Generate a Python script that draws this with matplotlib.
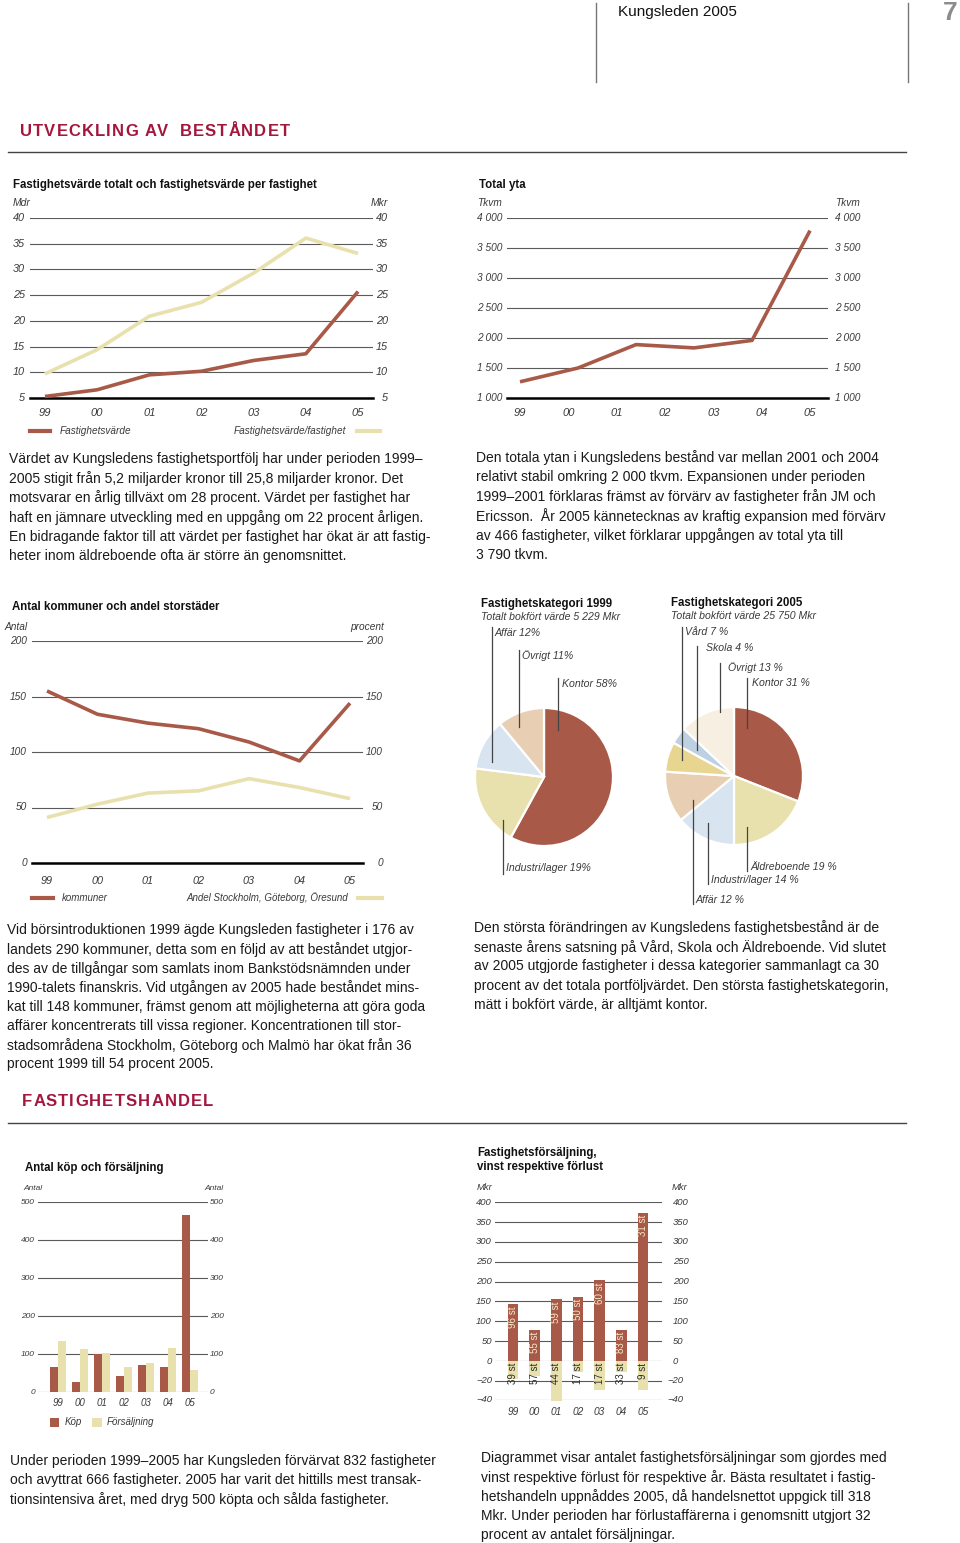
import matplotlib
matplotlib.use('Agg')
import matplotlib.pyplot as plt
import numpy as np
from matplotlib.lines import Line2D
from matplotlib.patches import Rectangle

plt.rcParams['font.family'] = ['Liberation Sans', 'DejaVu Sans']
plt.rcParams['axes.unicode_minus'] = True

W, H = 960, 1543
BROWN = '#a85948'
YELLOW = '#e9e1ad'
CRIMSON = '#a3173f'
GRID = '#5a5a5a'
TICK = '#3a3a3a'
BODY = '#1a1a1a'

# ---------------- data ----------------
years = ['99', '00', '01', '02', '03', '04', '05']

fastighetsvarde = [5.3, 6.6, 9.5, 10.2, 12.3, 13.6, 25.7]          # Mdr
varde_per_fastighet = [9.7, 14.4, 20.9, 23.6, 29.3, 36.1, 33.1]     # Mkr
fv_ticks = [5, 10, 15, 20, 25, 30, 35, 40]

total_yta = [1270, 1500, 1890, 1835, 1960, 3790]                    # Tkvm
yta_ticks = [1000, 1500, 2000, 2500, 3000, 3500, 4000]
yta_ticklabels = ['1 000', '1 500', '2 000', '2 500', '3 000', '3 500', '4 000']

kommuner = [155, 134, 126, 121, 109, 92, 144]
andel_storstad = [41, 53, 63, 65, 76, 68, 58]
kom_ticks = [0, 50, 100, 150, 200]

kat1999_labels = ['Kontor', 'Industri/lager', 'Affär', 'Övrigt']
kat1999_values = [58, 19, 12, 11]
kat1999_colors = [BROWN, YELLOW, '#d8e4ef', '#e8cfb3']

kat2005_labels = ['Kontor', 'Äldreboende', 'Industri/lager', 'Affär', 'Vård', 'Skola', 'Övrigt']
kat2005_values = [31, 19, 14, 12, 7, 4, 13]
kat2005_colors = [BROWN, YELLOW, '#d8e4ef', '#e8cfb3', '#e8d690', '#bed1e3', '#f7efe2']

kop = [67, 27, 101, 43, 71, 65, 466]
forsaljning = [135, 112, 103, 67, 77, 116, 57]
kop_ticks = [0, 100, 200, 300, 400, 500]

vinst = [143, 78, 156, 161, 203, 78, 374]
forlust = [-18, -15, -41, -11, -29.5, -11, -29.5]
antal_vinst = [96, 55, 59, 50, 60, 83, 31]
antal_forlust = [39, 57, 44, 17, 17, 33, 9]
vinst_ticks = [0, 50, 100, 150, 200, 250, 300, 350, 400]
forlust_ticks = [-40, -20]

# ---------------- helpers ----------------
fig = plt.figure(figsize=(W / 100, H / 100), dpi=100)
RENDERER = fig.canvas.get_renderer()


def add_ax(x0, y0, x1, y1):
    return fig.add_axes([x0 / W, 1 - y1 / H, (x1 - x0) / W, (y1 - y0) / H])


def ftext(x, y, s, **kw):
    kw.setdefault('va', 'center')
    kw.setdefault('ha', 'left')
    return fig.text(x / W, 1 - y / H, s, **kw)


def text_width(s, **kw):
    t = fig.text(0, 0, s + 'X', **kw)
    t2 = fig.text(0, 0, 'X', **kw)
    w = t.get_window_extent(renderer=RENDERER).width - t2.get_window_extent(renderer=RENDERER).width
    t.remove()
    t2.remove()
    return w


def spaced_text(x, y, s, spacing, **kw):
    for i, ch in enumerate(s):
        if ch == ' ':
            continue
        off = text_width(s[:i], **kw) if i > 0 else 0
        ftext(x + off + i * spacing, y, ch, **kw)


def fline(xs, ys, **kw):
    fig.add_artist(Line2D([x / W for x in xs], [1 - y / H for y in ys],
                          transform=fig.transFigure, **kw))


def frect(x0, y0, w, h, **kw):
    fig.add_artist(Rectangle((x0 / W, 1 - (y0 + h) / H), w / W, h / H,
                             transform=fig.transFigure, **kw))


def base_axes(ax, xlim, ylim, yticks):
    ax.set_xlim(*xlim)
    ax.set_ylim(*ylim)
    for s in ax.spines.values():
        s.set_visible(False)
    ax.set_facecolor('none')
    ax.set_yticks(yticks)
    ax.tick_params(axis='y', length=0, labelleft=False)
    ax.yaxis.grid(True, color=GRID, lw=0.8)
    ax.set_axisbelow(True)


def ylabels(ax, ax_x0, ax_x1, ticks, labels, px, ha, fs):
    tr = ax.get_yaxis_transform()
    for t, lab in zip(ticks, labels):
        ax.text((px - ax_x0) / (ax_x1 - ax_x0), t, lab, transform=tr, ha=ha, va='center',
                fontsize=fs, style='italic', color=TICK, clip_on=False)


def xlabels(ax, labels, fs, pad):
    ax.set_xticks(range(len(labels)))
    ax.set_xticklabels(labels, fontstyle='italic', fontsize=fs, color=TICK)
    ax.tick_params(axis='x', length=0, pad=pad)


BODY_FS = 10
TITLE_FS = 8.3


def paragraph(x, y0, dy, lines, fs=BODY_FS):
    for i, ln in enumerate(lines):
        ftext(x, y0 + i * dy, ln, fontsize=fs, color=BODY)


def title(x, y, s):
    ftext(x, y, s, fontsize=TITLE_FS, fontweight='bold', color='#111111')


# ---------------- header ----------------
fline([596, 596], [3, 82], color='#777777', lw=1)
fline([908, 908], [3, 82], color='#777777', lw=1)
ftext(618, 12, 'Kungsleden 2005', fontsize=11, color='#111111')
ftext(943, 13, '7', fontsize=19, fontweight='bold', color='#8c8c8c')

spaced_text(20, 131, 'UTVECKLING AV  BESTÅNDET', 1.1, fontsize=12, fontweight='bold', color=CRIMSON)
fline([8, 906], [152, 152], color='#444444', lw=1)

# ---------------- chart 1 ----------------
title(13, 185, 'Fastighetsvärde totalt och fastighetsvärde per fastighet')
X0, X1 = 30, 373
ax1 = add_ax(X0, 218, X1, 398)
base_axes(ax1, (-0.2875, 6.287), (5, 40), fv_ticks)
x7 = np.arange(len(years))
ax1.plot(x7, varde_per_fastighet, color=YELLOW, lw=2.6, solid_capstyle='butt', clip_on=False, zorder=3)
ax1.plot(x7, fastighetsvarde, color=BROWN, lw=2.6, solid_capstyle='butt', clip_on=False, zorder=4)
ax1.axhline(5, color='black', lw=1.8, clip_on=False, zorder=2)
ylabels(ax1, X0, X1, fv_ticks, [str(t) for t in fv_ticks], 25, 'right', 7.8)
ylabels(ax1, X0, X1, fv_ticks, [str(t) for t in fv_ticks], 388, 'right', 7.8)
xlabels(ax1, years, 8, 7.5)
ftext(13, 203, 'Mdr', fontsize=7.5, style='italic', color=TICK)
ftext(388, 203, 'Mkr', fontsize=7.5, style='italic', color=TICK, ha='right')
fline([30, 50], [431, 431], color=BROWN, lw=3)
ftext(60, 431, 'Fastighetsvärde', fontsize=7.2, style='italic', color=TICK)
ftext(346, 431, 'Fastighetsvärde/fastighet', fontsize=7.2, style='italic', color=TICK, ha='right')
fline([357, 380], [431, 431], color=YELLOW, lw=3)

# ---------------- chart 2 ----------------
title(479, 185, 'Total yta')
X0, X1 = 507, 828
ax2 = add_ax(X0, 218, X1, 398)
base_axes(ax2, (-0.269, 6.372), (1000, 4000), yta_ticks)
ax2.plot(np.linspace(0, len(years) - 1, len(total_yta)), total_yta, color=BROWN, lw=2.6,
         solid_capstyle='butt', clip_on=False, zorder=4)
ax2.axhline(1000, color='black', lw=1.8, clip_on=False, zorder=2)
ylabels(ax2, X0, X1, yta_ticks, yta_ticklabels, 502, 'right', 7.3)
ylabels(ax2, X0, X1, yta_ticks, yta_ticklabels, 860, 'right', 7.3)
xlabels(ax2, years, 8, 7.5)
ftext(502, 203, 'Tkvm', fontsize=7.3, style='italic', color=TICK, ha='right')
ftext(860, 203, 'Tkvm', fontsize=7.3, style='italic', color=TICK, ha='right')

paragraph(9, 459, 19.4, [
    'Värdet av Kungsledens fastighetsportfölj har under perioden 1999–',
    '2005 stigit från 5,2 miljarder kronor till 25,8 miljarder kronor. Det',
    'motsvarar en årlig tillväxt om 28 procent. Värdet per fastighet har',
    'haft en jämnare utveckling med en uppgång om 22 procent årligen.',
    'En bidragande faktor till att värdet per fastighet har ökat är att fastig-',
    'heter inom äldreboende ofta är större än genomsnittet.',
])
paragraph(476, 458, 19.4, [
    'Den totala ytan i Kungsledens bestånd var mellan 2001 och 2004',
    'relativt stabil omkring 2 000 tkvm. Expansionen under perioden',
    '1999–2001 förklaras främst av förvärv av fastigheter från JM och',
    'Ericsson.  År 2005 kännetecknas av kraftig expansion med förvärv',
    'av 466 fastigheter, vilket förklarar uppgången av total yta till',
    '3 790 tkvm.',
])

# ---------------- chart 3 ----------------
title(12, 607, 'Antal kommuner och andel storstäder')
X0, X1 = 32, 363
ax3 = add_ax(X0, 641, X1, 863)
base_axes(ax3, (-0.297, 6.257), (0, 200), kom_ticks)
ax3.plot(x7, andel_storstad, color=YELLOW, lw=2.6, solid_capstyle='butt', clip_on=False, zorder=3)
ax3.plot(x7, kommuner, color=BROWN, lw=2.6, solid_capstyle='butt', clip_on=False, zorder=4)
ax3.axhline(0, color='black', lw=1.8, clip_on=False, zorder=2)
ylabels(ax3, X0, X1, kom_ticks, [str(t) for t in kom_ticks], 27, 'right', 7.3)
ylabels(ax3, X0, X1, kom_ticks, [str(t) for t in kom_ticks], 383, 'right', 7.3)
xlabels(ax3, years, 7.8, 9)
ftext(4, 627, 'Antal', fontsize=7.3, style='italic', color=TICK)
ftext(384, 627, 'procent', fontsize=7.3, style='italic', color=TICK, ha='right')
fline([32, 53], [898, 898], color=BROWN, lw=3)
ftext(62, 898, 'kommuner', fontsize=7, style='italic', color=TICK)
ftext(348, 898, 'Andel Stockholm, Göteborg, Öresund', fontsize=7, style='italic', color=TICK, ha='right')
fline([358, 382], [898, 898], color=YELLOW, lw=3)

# ---------------- pies ----------------
def pie_axes(cx, cy, r):
    R = r * 1.25
    return add_ax(cx - R, cy - R, cx + R, cy + R)


LEAD = '#444444'
axp1 = pie_axes(544, 777, 69)
axp1.pie(kat1999_values, colors=kat1999_colors, startangle=90, counterclock=False,
         wedgeprops=dict(edgecolor='white', linewidth=1.6))
title(481, 604, 'Fastighetskategori 1999')
ftext(481, 617, 'Totalt bokfört värde 5 229 Mkr', fontsize=7.6, style='italic', color=TICK)
# label layout: (text x, text y, line x, line top, line bottom)
lay1999 = {'Affär': (495, 633, 492, 627, 762), 'Övrigt': (522, 656, 519, 650, 727),
           'Kontor': (562, 684, 558, 678, 730), 'Industri/lager': (506, 868, 503, 820, 874)}
for lab, val in zip(kat1999_labels, kat1999_values):
    tx, ty, lx, l0, l1 = lay1999[lab]
    fline([lx, lx], [l0, l1], color=LEAD, lw=0.9)
    ftext(tx, ty, f'{lab} {val}%', fontsize=7.6, style='italic', color=TICK)

axp2 = pie_axes(734, 776, 69)
axp2.pie(kat2005_values, colors=kat2005_colors, startangle=90, counterclock=False,
         wedgeprops=dict(edgecolor='white', linewidth=1.6))
title(671, 603, 'Fastighetskategori 2005')
ftext(671, 616, 'Totalt bokfört värde 25 750 Mkr', fontsize=7.6, style='italic', color=TICK)
lay2005 = {'Vård': (685, 632, 682, 627, 760), 'Skola': (706, 648, 697, 646, 750),
           'Övrigt': (728, 668, 720, 663, 712), 'Kontor': (752, 683, 747, 678, 728),
           'Äldreboende': (750, 867, 747, 827, 871), 'Industri/lager': (711, 880, 708, 823, 884),
           'Affär': (696, 900, 693, 800, 904)}
for lab, val in zip(kat2005_labels, kat2005_values):
    tx, ty, lx, l0, l1 = lay2005[lab]
    fline([lx, lx], [l0, l1], color=LEAD, lw=0.9)
    ftext(tx, ty, f'{lab} {val} %', fontsize=7.6, style='italic', color=TICK)

paragraph(7, 930, 19.2, [
    'Vid börsintroduktionen 1999 ägde Kungsleden fastigheter i 176 av',
    'landets 290 kommuner, detta som en följd av att beståndet utgjor-',
    'des av de tillgångar som samlats inom Bankstödsnämnden under',
    '1990-talets finanskris. Vid utgången av 2005 hade beståndet mins-',
    'kat till 148 kommuner, främst genom att möjligheterna att göra goda',
    'affärer koncentrerats till vissa regioner. Koncentrationen till stor-',
    'stadsområdena Stockholm, Göteborg och Malmö har ökat från 36',
    'procent 1999 till 54 procent 2005.',
])
paragraph(474, 928, 19.2, [
    'Den största förändringen av Kungsledens fastighetsbestånd är de',
    'senaste årens satsning på Vård, Skola och Äldreboende. Vid slutet',
    'av 2005 utgjorde fastigheter i dessa kategorier sammanlagt ca 30',
    'procent av det totala portföljvärdet. Den största fastighetskategorin,',
    'mätt i bokfört värde, är alltjämt kontor.',
])

spaced_text(22, 1102, 'FASTIGHETSHANDEL', 1.2, fontsize=12, fontweight='bold', color=CRIMSON)
fline([8, 906], [1123, 1123], color='#444444', lw=1)

# ---------------- chart 5 ----------------
title(25, 1168, 'Antal köp och försäljning')
X0, X1 = 38, 208
ax5 = add_ax(X0, 1202, X1, 1392)
base_axes(ax5, (-0.909, 6.818), (0, 500), kop_ticks)
bw = 0.34
ax5.bar(x7 - 0.18, kop, width=bw, color=BROWN, zorder=3)
ax5.bar(x7 + 0.18, forsaljning, width=bw, color=YELLOW, zorder=3)
ylabels(ax5, X0, X1, kop_ticks, [str(t) for t in kop_ticks], 35, 'right', 6)
ylabels(ax5, X0, X1, kop_ticks, [str(t) for t in kop_ticks], 210, 'left', 6)
xlabels(ax5, years, 7, 4)
ftext(23, 1188, 'Antal', fontsize=6, style='italic', color=TICK)
ftext(224, 1188, 'Antal', fontsize=6, style='italic', color=TICK, ha='right')
frect(50, 1418, 9, 9, color=BROWN, lw=0)
ftext(65, 1422, 'Köp', fontsize=7, style='italic', color=TICK)
frect(92, 1418, 10, 9, color=YELLOW, lw=0)
ftext(107, 1422, 'Försäljning', fontsize=7, style='italic', color=TICK)

# ---------------- chart 6 ----------------
title(477, 1153, 'Fastighetsförsäljning,')
title(477, 1167, 'vinst respektive förlust')
X0, X1 = 495, 662
xl6 = (-0.83, 6.877)
ax6t = add_ax(X0, 1202.3, X1, 1361)
base_axes(ax6t, xl6, (0, 400), vinst_ticks)
ax6t.set_xticks([])
ax6b = add_ax(X0, 1361, X1, 1400)
base_axes(ax6b, xl6, (-40, 0), forlust_ticks)
bw6 = 0.49
ax6t.bar(x7, vinst, width=bw6, color=BROWN, zorder=3)
ax6b.bar(x7, forlust, width=bw6, color=YELLOW, zorder=3, clip_on=False)
for i in range(len(years)):
    ax6t.annotate(f'{antal_vinst[i]} st', xy=(i, vinst[i]), xytext=(0, -1.5), textcoords='offset points',
                  rotation=90, ha='center', va='top', fontsize=7, color='#f3eacb', zorder=5)
    ax6b.annotate(f'{antal_forlust[i]} st', xy=(i, 0), xytext=(0, -1.5), textcoords='offset points',
                  rotation=90, ha='center', va='top', fontsize=7, color='#2a2a2a', zorder=5,
                  annotation_clip=False)
ylabels(ax6t, X0, X1, vinst_ticks, [str(t) for t in vinst_ticks], 492, 'right', 6.8)
ylabels(ax6t, X0, X1, vinst_ticks, [str(t) for t in vinst_ticks], 673, 'left', 6.8)
neg_labels = ['\u221240', '\u221220']
ylabels(ax6b, X0, X1, forlust_ticks, neg_labels, 492, 'right', 6.8)
ylabels(ax6b, X0, X1, forlust_ticks, neg_labels, 667, 'left', 6.8)
xlabels(ax6b, years, 7.3, 5)
ftext(492, 1188, 'Mkr', fontsize=6.8, style='italic', color=TICK, ha='right')
ftext(672, 1188, 'Mkr', fontsize=6.8, style='italic', color=TICK)

paragraph(10, 1461, 19.2, [
    'Under perioden 1999–2005 har Kungsleden förvärvat 832 fastigheter',
    'och avyttrat 666 fastigheter. 2005 har varit det hittills mest transak-',
    'tionsintensiva året, med dryg 500 köpta och sålda fastigheter.',
])
paragraph(481, 1458, 19.2, [
    'Diagrammet visar antalet fastighetsförsäljningar som gjordes med',
    'vinst respektive förlust för respektive år. Bästa resultatet i fastig-',
    'hetshandeln uppnåddes 2005, då handelsnettot uppgick till 318',
    'Mkr. Under perioden har förlustaffärerna i genomsnitt utgjort 32',
    'procent av antalet försäljningar.',
])

fig.savefig('out.png', dpi=100)
